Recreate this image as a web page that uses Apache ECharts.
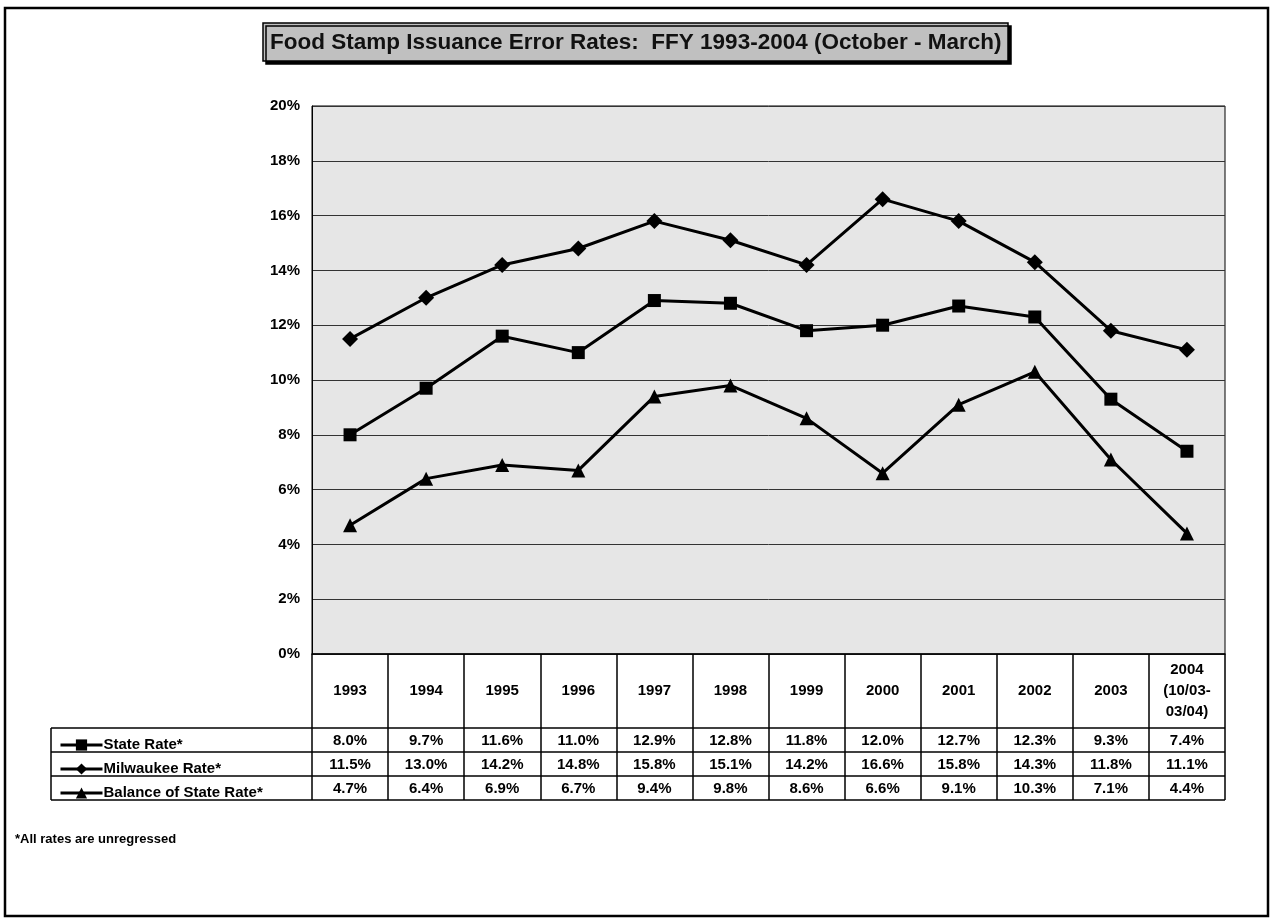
<!DOCTYPE html>
<html>
<head>
<meta charset="utf-8">
<script src="https://cdn.jsdelivr.net/npm/echarts@6/dist/echarts.min.js"></script>
<style>
  html, body { margin: 0; padding: 0; background: #fff; }
  #main { width: 1273px; height: 920px; }
</style>
</head>
<body>
<div id="main"></div>
<script>
// 年份 / 表头
const years = ['1993', '1994', '1995', '1996', '1997', '1998', '1999', '2000', '2001', '2002', '2003', '2004\n(10/03-\n03/04)']
const yTicks = [0, 2, 4, 6, 8, 10, 12, 14, 16, 18, 20]
// series values (%)
const stateRate = [8.0, 9.7, 11.6, 11.0, 12.9, 12.8, 11.8, 12.0, 12.7, 12.3, 9.3, 7.4]
const milwaukeeRate = [11.5, 13.0, 14.2, 14.8, 15.8, 15.1, 14.2, 16.6, 15.8, 14.3, 11.8, 11.1]
const balanceRate = [4.7, 6.4, 6.9, 6.7, 9.4, 9.8, 8.6, 6.6, 9.1, 10.3, 7.1, 4.4]
const seriesNames = ['State Rate*', 'Milwaukee Rate*', 'Balance of State Rate*']

const FONT = 'Liberation Sans, Arial, sans-serif'
const plotTop = 106
const plotBottom = 654
const rowH = 24
const headH = 74
const tableLeft = 51

const lineSeries = (name, data, symbol, size) => ({
  name: name,
  type: 'line',
  data: data,
  symbol: symbol,
  symbolSize: size,
  lineStyle: { color: '#000', width: 3 },
  itemStyle: { color: '#000' },
  z: 5
})

// 每行一个图例, 放进表格左列
const legends = seriesNames.map((name, r) => ({
  left: tableLeft + 3,
  top: plotBottom + headH + r * rowH + 3,
  itemWidth: 42,
  itemHeight: 14,
  lineStyle: { width: 3 },
  textStyle: { fontFamily: FONT, fontWeight: 'bold', fontSize: 15, lineHeight: 16, color: '#000', padding: [0, 0, 2, -4] },
  data: [name]
}))

const option = {
  animation: false,
  backgroundColor: '#fff',
  title: {
    text: 'Food Stamp Issuance Error Rates:  FFY 1993-2004 (October - March)',
    left: 263,
    top: 23,
    padding: [8, 7, 7, 7],
    backgroundColor: '#c0c0c0',
    borderColor: '#000',
    borderWidth: 1.5,
    shadowColor: '#000',
    shadowOffsetX: 3,
    shadowOffsetY: 3,
    shadowBlur: 0,
    textStyle: { fontFamily: FONT, fontWeight: 'bold', fontSize: 22.5, color: '#111' }
  },
  legend: legends,
  grid: {
    left: 312,
    right: 48,
    top: plotTop,
    bottom: 920 - plotBottom,
    show: true,
    backgroundColor: '#e6e6e6',
    borderColor: '#000',
    borderWidth: 1
  },
  xAxis: {
    type: 'category',
    data: years,
    boundaryGap: true,
    axisLine: { lineStyle: { color: '#000', width: 1.5 } },
    axisTick: { show: true, interval: 0, length: headH + rowH * 3, lineStyle: { color: '#000', width: 1.5 } },
    axisLabel: {
      interval: 0,
      margin: headH / 2,
      verticalAlign: 'middle',
      fontFamily: FONT, fontWeight: 'bold', fontSize: 15, lineHeight: 21, color: '#000'
    }
  },
  yAxis: {
    type: 'value',
    min: yTicks[0],
    max: yTicks[yTicks.length - 1],
    interval: 2,
    axisLine: { show: true, lineStyle: { color: '#000', width: 1 } },
    axisTick: { show: false },
    axisLabel: { formatter: '{value}%', margin: 12, fontFamily: FONT, fontWeight: 'bold', fontSize: 15, color: '#000' },
    splitLine: { lineStyle: { color: '#333', width: 1 } }
  },
  series: [
    lineSeries(seriesNames[0], stateRate, 'rect', 13),
    lineSeries(seriesNames[1], milwaukeeRate, 'diamond', 16),
    lineSeries(seriesNames[2], balanceRate, 'triangle', 14)
  ]
}

const myChart = echarts.init(document.getElementById('main'))
myChart.setOption(option)

// 数据表 (table under the chart)
const rows = [stateRate, milwaukeeRate, balanceRate]
const colW = myChart.convertToPixel({ xAxisIndex: 0 }, 1) - myChart.convertToPixel({ xAxisIndex: 0 }, 0)
const xRight = myChart.convertToPixel({ xAxisIndex: 0 }, years.length - 1) + colW / 2
const graphic = []
for (let r = 0; r <= 3; r++) {
  const y = plotBottom + headH + r * rowH
  graphic.push({ type: 'line', shape: { x1: tableLeft, y1: y, x2: xRight, y2: y }, style: { stroke: '#000', lineWidth: 1.5 } })
}
graphic.push({ type: 'line', shape: { x1: tableLeft, y1: plotBottom + headH, x2: tableLeft, y2: plotBottom + headH + rowH * 3 }, style: { stroke: '#000', lineWidth: 1.5 } })
rows.forEach((vals, r) => {
  vals.forEach((v, i) => {
    graphic.push({
      type: 'text',
      x: myChart.convertToPixel({ xAxisIndex: 0 }, i),
      y: plotBottom + headH + r * rowH + rowH / 2 + 1,
      style: { text: v.toFixed(1) + '%', fontFamily: FONT, fontWeight: 'bold', fontSize: 15, fill: '#000', align: 'center', verticalAlign: 'middle' }
    })
  })
})
// footnote
graphic.push({ type: 'text', x: 15, y: 833, style: { text: '*All rates are unregressed', fontFamily: FONT, fontWeight: 'bold', fontSize: 13, fill: '#000' } })
// outer frame
graphic.push({ type: 'rect', shape: { x: 5, y: 8, width: 1263, height: 908 }, style: { fill: 'none', stroke: '#000', lineWidth: 2.5 }, z: -1 })
myChart.setOption({ graphic: graphic })

window.addEventListener('resize', () => {
  myChart.resize()
})
</script>
</body>
</html>
